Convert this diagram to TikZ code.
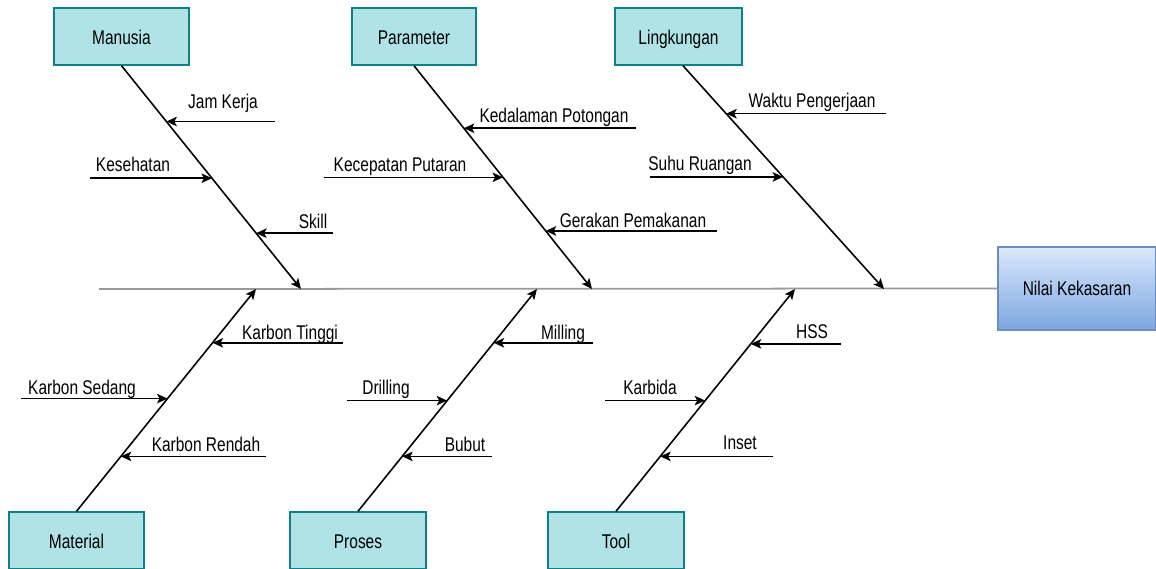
\documentclass[tikz,border=0pt]{standalone}
\usepackage{fontspec}
\setmainfont{Liberation Sans}[FakeStretch=0.78]
\usepackage{xcolor}
\usetikzlibrary{arrows.meta, positioning, calc}
\definecolor{causefill}{HTML}{B0E3E6}
\definecolor{causeline}{HTML}{0E8088}
\definecolor{effecttop}{HTML}{DAE8FC}
\definecolor{effectbot}{HTML}{7EA6E0}
\definecolor{effectline}{HTML}{6C8EBF}
\definecolor{spinegray}{HTML}{999999}
\newcommand{\fsz}{\fontsize{11.3}{13.5}\selectfont}

\begin{document}
\begin{tikzpicture}[
    x=0.02cm, y=-0.02cm,
    cause/.style={draw=causeline, line width=0.8pt, fill=causefill, align=center, font=\fsz,
                  text height=1.7ex, text depth=0pt,
                  minimum width=2.7cm, minimum height=1.14cm},
    effect/.style={draw=effectline, line width=0.8pt, top color=effecttop, bottom color=effectbot,
                   font=\fsz, minimum width=3.16cm, minimum height=1.66cm},
    bone/.style={line width=0.9pt, -{Stealth[length=2.1mm, width=1.9mm, inset=0.5mm]}},
    arr/.style={line width=0.9pt, -{Stealth[length=2.1mm, width=1.9mm, inset=0.5mm]}},
    spine/.style={draw=spinegray, line width=1pt},
    lbl/.style={font=\fsz, anchor=base, inner sep=0pt}
]
\useasboundingbox (0,0) rectangle (1156,568);

\node[cause] (manusia) at (121.5,36.5) {Manusia};
\node[cause, minimum width=2.48cm] (parameter) at (414,36.5) {Parameter};
\node[cause, minimum width=2.54cm] (lingkungan) at (678.5,36.5) {Lingkungan};
\node[cause] (material) at (76.5,540.5) {Material};
\node[cause, minimum width=2.72cm] (proses) at (358,540.5) {Proses};
\node[cause, minimum width=2.72cm] (tool) at (616,540.5) {Tool};
\node[effect] (nilai) at (1077,288.5) {Nilai Kekasaran};

% spine and heads
\coordinate (tail) at (99,289);
\coordinate (hman) at (301,289);
\coordinate (hpar) at (592,289);
\coordinate (hling) at (884,289);
\coordinate (hmat) at (256,289);
\coordinate (hpro) at (537,289);
\coordinate (htool) at (795,289);
\draw[spine] (tail) -- (nilai.west);

% upper bones
\draw[bone] (manusia.south) -- coordinate[pos=0.25] (jam) coordinate[pos=0.504] (sehat)
    coordinate[pos=0.75] (skill) (hman);
\draw[bone] (parameter.south) -- coordinate[pos=0.28] (dalam) coordinate[pos=0.5] (cepat)
    coordinate[pos=0.74] (gerak) (hpar);
\draw[bone] ([xshift=0.09cm]lingkungan.south) -- coordinate[pos=0.215] (waktu)
    coordinate[pos=0.498] (suhu) (hling);

% lower bones
\draw[bone] (material.north) -- coordinate[pos=0.758] (tinggi) coordinate[pos=0.507] (sedang)
    coordinate[pos=0.247] (rendah) (hmat);
\draw[bone] (proses.north) -- coordinate[pos=0.758] (milling) coordinate[pos=0.498] (drilling)
    coordinate[pos=0.247] (bubut) (hpro);
\draw[bone] (tool.north) -- coordinate[pos=0.753] (hss) coordinate[pos=0.498] (karbida)
    coordinate[pos=0.247] (inset) (htool);

% sub causes
\draw[arr] ($(jam)+(109,0)$) -- (jam);
\draw[arr] ($(sehat)+(-122,0)$) -- (sehat);
\draw[arr] ($(skill)+(77,0)$) -- (skill);
\draw[arr] ($(dalam)+(172,0)$) -- (dalam);
\draw[arr] ($(cepat)+(-179,0)$) -- (cepat);
\draw[arr] ($(gerak)+(171,0)$) -- (gerak);
\draw[arr] ($(waktu)+(160,0)$) -- (waktu);
\draw[arr] ($(suhu)+(-133,0)$) -- (suhu);
\draw[arr] ($(tinggi)+(130,0)$) -- (tinggi);
\draw[arr] ($(sedang)+(-147,0)$) -- (sedang);
\draw[arr] ($(rendah)+(145,0)$) -- (rendah);
\draw[arr] ($(milling)+(99,0)$) -- (milling);
\draw[arr] ($(drilling)+(-100,0)$) -- (drilling);
\draw[arr] ($(bubut)+(90,0)$) -- (bubut);
\draw[arr] ($(hss)+(90,0)$) -- (hss);
\draw[arr] ($(karbida)+(-100,0)$) -- (karbida);
\draw[arr] ($(inset)+(113,0)$) -- (inset);

% labels
\node[lbl] (ljam) at (223,108) {Jam Kerja};
\node[lbl] (lsehat) at (133,171) {Kesehatan};
\node[lbl] (lskill) at (313,228) {Skill};
\node[lbl] (ldalam) at (554,122) {Kedalaman Potongan};
\node[lbl] (lcepat) at (400,171) {Kecepatan Putaran};
\node[lbl] (lgerak) at (633,227) {Gerakan Pemakanan};
\node[lbl] (lwaktu) at (812,107) {Waktu Pengerjaan};
\node[lbl] (lsuhu) at (700,170) {Suhu Ruangan};
\node[lbl] (ltinggi) at (290,339) {Karbon Tinggi};
\node[lbl] (lsedang) at (82,394) {Karbon Sedang};
\node[lbl] (lrendah) at (206,451) {Karbon Rendah};
\node[lbl] (lmilling) at (563,339) {Milling};
\node[lbl] (ldrilling) at (386,394) {Drilling};
\node[lbl] (lbubut) at (465,451) {Bubut};
\node[lbl] (lhss) at (812,338) {HSS};
\node[lbl] (lkarbida) at (650,394) {Karbida};
\node[lbl] (linset) at (740,449) {Inset};
\end{tikzpicture}
\end{document}
